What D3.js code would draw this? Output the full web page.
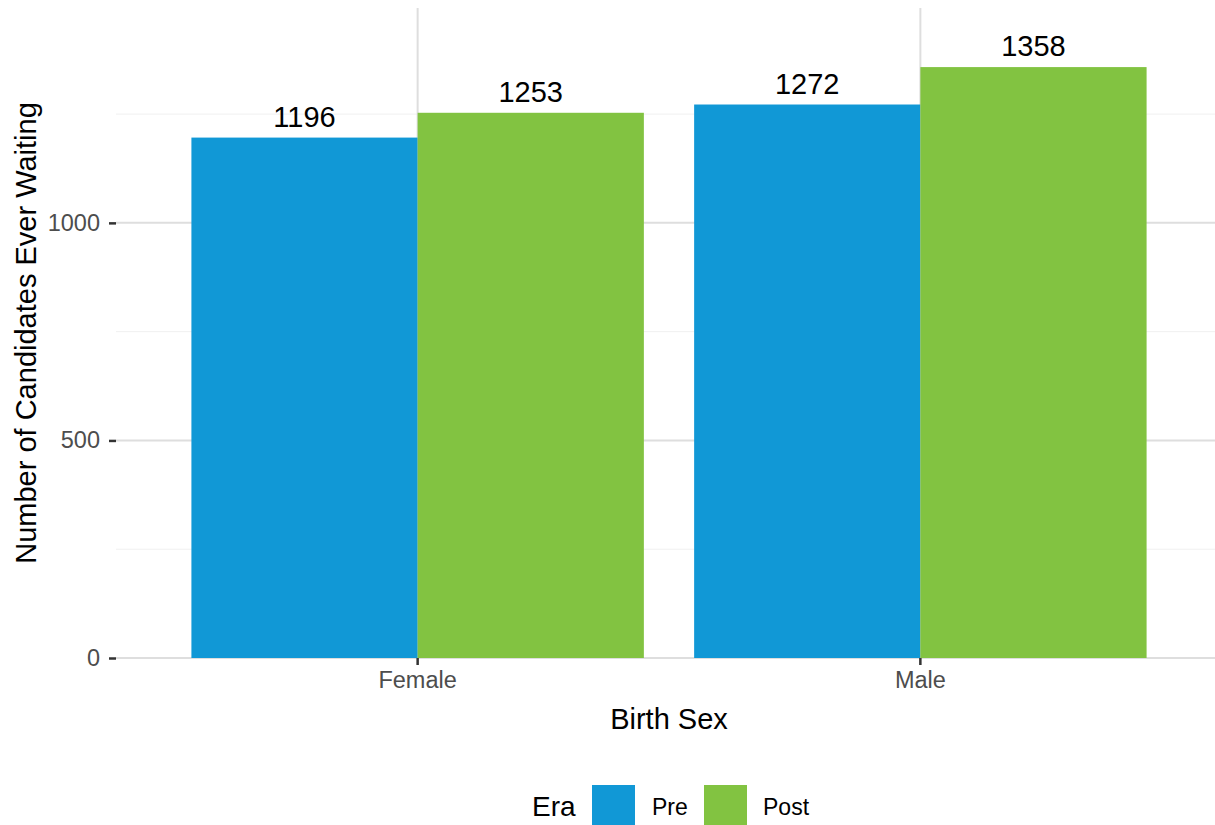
<!DOCTYPE html>
<html>
<head>
<meta charset="utf-8">
<script src="https://cdn.jsdelivr.net/npm/d3@7"></script>
<style>
  html, body { margin: 0; padding: 0; background: #fff; }
  svg { display: block; font-family: "Liberation Sans", Arial, Helvetica, sans-serif; }
</style>
</head>
<body>
<svg id="chart" width="1215" height="825"></svg>
<script>
const categories = ["Female", "Male"];
const eras = ["Pre", "Post"];
const preValues = [1196, 1272];
const postValues = [1253, 1358];
const majorTicks = [0, 500, 1000];
const minorTicks = [250, 750, 1250];
const eraColors = ["#1198D6", "#82C341"];

const W = 1215, H = 825;
const panel = { left: 116, right: 1222, top: 8, bottom: 658 };

const svg = d3.select("#chart");

const data = [];
categories.forEach((c, i) => {
  data.push({ cat: c, era: "Pre", value: preValues[i] });
  data.push({ cat: c, era: "Post", value: postValues[i] });
});

const x = d3.scaleBand()
  .domain(categories)
  .range([panel.left, panel.right])
  .paddingInner(0.1)
  .paddingOuter(0.15);

const xEra = d3.scaleBand()
  .domain(eras)
  .range([0, x.bandwidth()]);

const yMax = d3.max(data, d => d.value) * 1.1;
const y = d3.scaleLinear()
  .domain([0, yMax])
  .range([panel.bottom, panel.top]);

const color = d3.scaleOrdinal().domain(eras).range(eraColors);

svg.append("clipPath").attr("id", "pclip")
  .append("rect")
  .attr("x", panel.left).attr("y", panel.top)
  .attr("width", panel.right - panel.left)
  .attr("height", panel.bottom - panel.top + 1);

const grid = svg.append("g").attr("clip-path", "url(#pclip)");

// minor grid
grid.selectAll("line.minor").data(minorTicks).enter().append("line")
  .attr("x1", panel.left).attr("x2", panel.right)
  .attr("y1", d => y(d)).attr("y2", d => y(d))
  .attr("stroke", "#F0F0F0").attr("stroke-width", 1);

// major grid horizontal
grid.selectAll("line.majorY").data(majorTicks).enter().append("line")
  .attr("x1", panel.left).attr("x2", panel.right)
  .attr("y1", d => y(d)).attr("y2", d => y(d))
  .attr("stroke", "#DEDEDE").attr("stroke-width", 2);

// major grid vertical
grid.selectAll("line.majorX").data(categories).enter().append("line")
  .attr("x1", d => x(d) + x.bandwidth() / 2).attr("x2", d => x(d) + x.bandwidth() / 2)
  .attr("y1", panel.top).attr("y2", panel.bottom)
  .attr("stroke", "#DEDEDE").attr("stroke-width", 2);

// bars
svg.append("g").selectAll("rect").data(data).enter().append("rect")
  .attr("x", d => x(d.cat) + xEra(d.era))
  .attr("width", xEra.bandwidth())
  .attr("y", d => y(d.value))
  .attr("height", d => y(0) - y(d.value))
  .attr("fill", d => color(d.era));

// bar labels
svg.append("g").selectAll("text").data(data).enter().append("text")
  .attr("x", d => x(d.cat) + xEra(d.era) + xEra.bandwidth() / 2)
  .attr("y", d => y(d.value) - 11)
  .attr("text-anchor", "middle")
  .attr("font-size", 29)
  .attr("fill", "#000")
  .text(d => d.value);

// y axis (ticks + labels)
const yAxis = d3.axisLeft(y).tickValues(majorTicks).tickSize(7).tickPadding(9).tickFormat(d3.format("d"));
const gy = svg.append("g").attr("transform", `translate(${panel.left},0)`).call(yAxis);
gy.select(".domain").remove();
gy.selectAll(".tick line").attr("stroke", "#333333").attr("stroke-width", 2.5);
gy.selectAll(".tick text").attr("font-size", 23.5).attr("fill", "#4D4D4D")
  .attr("font-family", "Liberation Sans, Arial, sans-serif");

// x axis
const xAxis = d3.axisBottom(x).tickSize(7).tickPadding(6);
const gx = svg.append("g").attr("transform", `translate(0,${panel.bottom})`).call(xAxis);
gx.select(".domain").remove();
gx.selectAll(".tick line").attr("stroke", "#333333").attr("stroke-width", 2.5);
gx.selectAll(".tick text").attr("font-size", 23.5).attr("fill", "#4D4D4D")
  .attr("font-family", "Liberation Sans, Arial, sans-serif");

// axis titles
svg.append("text")
  .attr("x", (panel.left + panel.right) / 2)
  .attr("y", 729)
  .attr("text-anchor", "middle")
  .attr("font-size", 29)
  .attr("fill", "#000")
  .text("Birth Sex");

svg.append("text")
  .attr("transform", `translate(36,${(panel.top + panel.bottom) / 2}) rotate(-90)`)
  .attr("text-anchor", "middle")
  .attr("font-size", 29)
  .attr("fill", "#000")
  .text("Number of Candidates Ever Waiting");

// legend
const lg = svg.append("g");
lg.append("text").attr("x", 532).attr("y", 816).attr("font-size", 28).attr("fill", "#000").text("Era");
const keyX = [592, 704];
const labX = [652, 763];
eras.forEach((e, i) => {
  lg.append("rect").attr("x", keyX[i]).attr("y", 785).attr("width", 43).attr("height", 43).attr("fill", color(e));
  lg.append("text").attr("x", labX[i]).attr("y", 815).attr("font-size", 23).attr("fill", "#000").text(e);
});
</script>
</body>
</html>
